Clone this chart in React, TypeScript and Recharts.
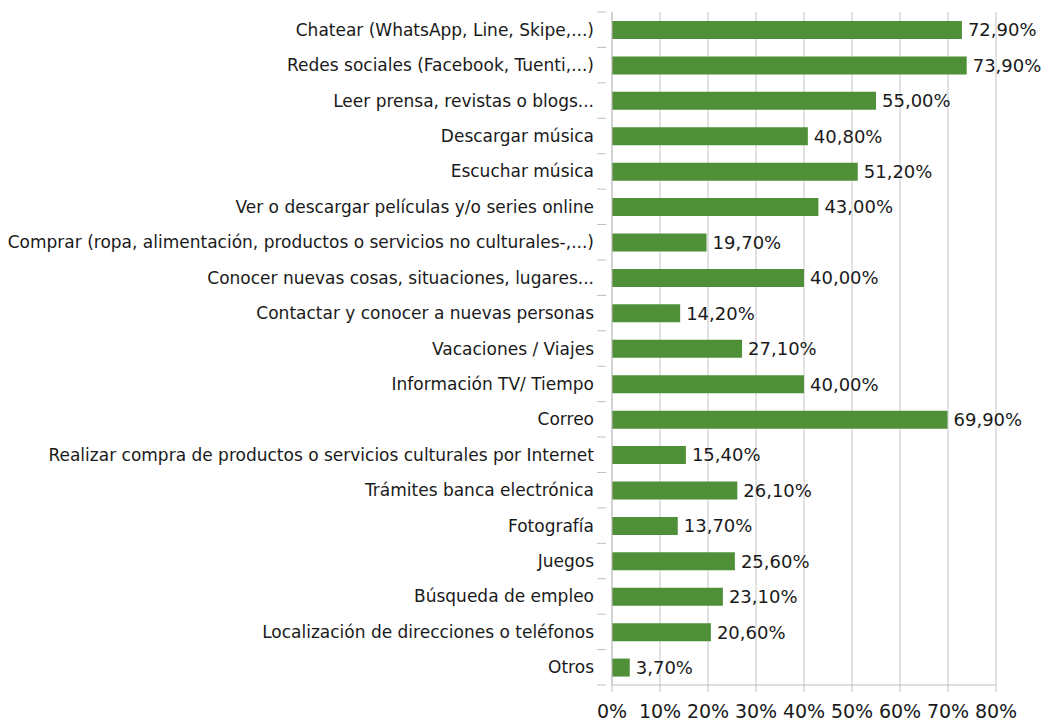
import React from 'react';
import { BarChart, Bar, XAxis, YAxis, CartesianGrid, LabelList } from 'recharts';

const categories = [
  'Chatear (WhatsApp, Line, Skipe,...)',
  'Redes sociales (Facebook,  Tuenti,...)',
  'Leer prensa, revistas o blogs...',
  'Descargar música',
  'Escuchar música',
  'Ver o descargar películas y/o series online',
  'Comprar (ropa, alimentación, productos o servicios no culturales-,...)',
  'Conocer nuevas cosas, situaciones, lugares...',
  'Contactar y conocer a nuevas personas',
  'Vacaciones / Viajes',
  'Información TV/ Tiempo',
  'Correo',
  'Realizar compra de productos o servicios culturales por Internet',
  'Trámites banca electrónica',
  'Fotografía',
  'Juegos',
  'Búsqueda de empleo',
  'Localización de direcciones o teléfonos',
  'Otros',
];
const values = [72.9, 73.9, 55.0, 40.8, 51.2, 43.0, 19.7, 40.0, 14.2, 27.1, 40.0, 69.9, 15.4, 26.1, 13.7, 25.6, 23.1, 20.6, 3.7];
const xTicks = [0, 10, 20, 30, 40, 50, 60, 70, 80];

const data = categories.map((c, i) => ({ name: c, value: values[i] }));

const FONT = '"DejaVu Sans", sans-serif';
const TEXT = '#1a1a1a';
const AXIS = '#bfbfbf';
const GRID = '#d9d9d9';
const BAR = '#4e8f37';

const W = 1047;
const H = 722;
const M = { top: 12, right: 51, left: 0, bottom: 7 };
const XH = 30;
const plotH = H - M.top - M.bottom - XH;
const band = plotH / categories.length;

const YTick = (props: any) => {
  const { x, y, payload, index } = props;
  const lineX1 = x + 3;
  const lineX2 = x + 12;
  return (
    <g>
      <line x1={lineX1} x2={lineX2} y1={y - band / 2} y2={y - band / 2} stroke={AXIS} strokeWidth={1} />
      {index === categories.length - 1 && (
        <line x1={lineX1} x2={lineX2} y1={y + band / 2} y2={y + band / 2} stroke={AXIS} strokeWidth={1} />
      )}
      <text x={x} y={y} textAnchor="end" dominantBaseline="central" fontFamily={FONT} fontSize={17} fill={TEXT}>
        {payload.value}
      </text>
    </g>
  );
};

const fmt = (v: any) => `${Number(v).toFixed(2).replace('.', ',')}%`;

export default function App() {
  return (
    <div style={{ position: 'absolute', left: 0, top: 0, background: '#fff' }}>
      <BarChart
        width={W}
        height={H}
        data={data}
        layout="vertical"
        margin={M}
        barCategoryGap="24%"
      >
        <CartesianGrid horizontal={false} vertical={true} stroke={GRID} strokeWidth={1.5} />
        <XAxis
          type="number"
          domain={[0, 80]}
          ticks={xTicks}
          tickFormatter={(v: number) => `${v}%`}
          height={XH}
          axisLine={{ stroke: AXIS }}
          tickLine={{ stroke: AXIS }}
          tickSize={7}
          tick={{ fontFamily: FONT, fontSize: 19, fill: TEXT, dy: 11 }}
          interval={0}
        />
        <YAxis
          type="category"
          dataKey="name"
          width={612}
          axisLine={{ stroke: AXIS }}
          tickLine={false}
          tick={<YTick />}
          tickMargin={12}
          interval={0}
        />
        <Bar dataKey="value" fill={BAR} barSize={18} isAnimationActive={false}>
          <LabelList
            dataKey="value"
            position="right"
            offset={6}
            formatter={fmt}
            style={{ fontFamily: FONT, fontSize: 18, fill: TEXT }}
          />
        </Bar>
      </BarChart>
    </div>
  );
}
